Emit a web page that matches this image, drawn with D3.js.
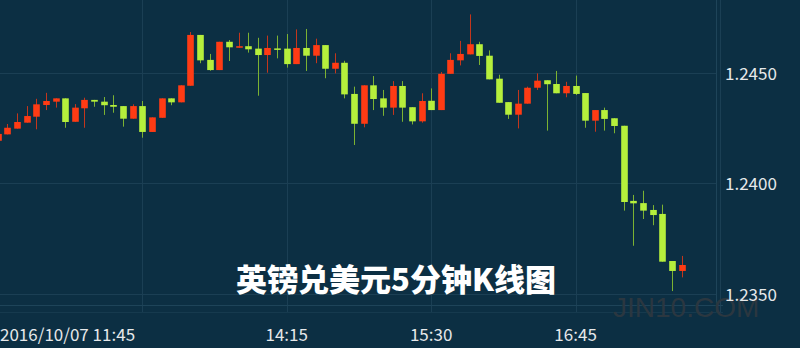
<!DOCTYPE html>
<html>
<head>
<meta charset="utf-8">
<script src="https://cdn.jsdelivr.net/npm/d3@7"></script>
<style>
  html, body { margin: 0; padding: 0; background: #0c2f43; }
  svg { display: block; }
</style>
</head>
<body>
<div id="chart"></div>
<script>
// ===== GBP/USD 5 min candles, 2016/10/07 =====
var times = ["11:45","11:50","11:55","12:00","12:05","12:10","12:15","12:20","12:25","12:30",
    "12:35","12:40","12:45","12:50","12:55","13:00","13:05","13:10","13:15","13:20",
    "13:25","13:30","13:35","13:40","13:45","13:50","13:55","14:00","14:05","14:10",
    "14:15","14:20","14:25","14:30","14:35","14:40","14:45","14:50","14:55","15:00",
    "15:05","15:10","15:15","15:20","15:25","15:30","15:35","15:40","15:45","15:50",
    "15:55","16:00","16:05","16:10","16:15","16:20","16:25","16:30","16:35","16:40",
    "16:45","16:50","16:55","17:00","17:05","17:10","17:15","17:20","17:25","17:30",
    "17:35","17:40"];

var open = [1.24191,1.24220,1.24246,1.24273,1.24300,1.24353,1.24368,1.24383,1.24277,1.24338,
    1.24376,1.24368,1.24353,1.24348,1.24291,1.24348,1.24231,1.24295,1.24383,1.24365,
    1.24440,1.24670,1.24557,1.24511,1.24639,1.24612,1.24619,1.24608,1.24579,1.24609,
    1.24608,1.24538,1.24611,1.24576,1.24624,1.24517,1.24544,1.24403,1.24268,1.24442,
    1.24383,1.24341,1.24439,1.24343,1.24279,1.24372,1.24330,1.24494,1.24555,1.24582,
    1.24628,1.24576,1.24472,1.24366,1.24309,1.24359,1.24431,1.24465,1.24448,1.24406,
    1.24439,1.24407,1.24282,1.24330,1.24293,1.24259,1.23919,1.23909,1.23878,1.23860,
    1.23647,1.23602];

var high = [1.24231,1.24267,1.24315,1.24348,1.24381,1.24408,1.24383,1.24383,1.24357,1.24386,
    1.24376,1.24389,1.24397,1.24348,1.24356,1.24371,1.24297,1.24383,1.24383,1.24442,
    1.24683,1.24670,1.24584,1.24639,1.24647,1.24680,1.24680,1.24657,1.24667,1.24667,
    1.24674,1.24695,1.24697,1.24653,1.24624,1.24587,1.24553,1.24436,1.24442,1.24484,
    1.24421,1.24461,1.24461,1.24343,1.24406,1.24428,1.24502,1.24587,1.24643,1.24763,
    1.24639,1.24600,1.24490,1.24366,1.24421,1.24436,1.24496,1.24465,1.24507,1.24458,
    1.24486,1.24407,1.24330,1.24341,1.24293,1.24259,1.23946,1.23965,1.23900,1.23902,
    1.23647,1.23670];

var low = [1.24181,1.24220,1.24246,1.24273,1.24243,1.24330,1.24341,1.24250,1.24277,1.24250,
    1.24345,1.24308,1.24318,1.24255,1.24291,1.24205,1.24231,1.24295,1.24352,1.24365,
    1.24440,1.24542,1.24508,1.24511,1.24552,1.24612,1.24590,1.24395,1.24499,1.24564,
    1.24522,1.24538,1.24507,1.24542,1.24474,1.24496,1.24383,1.24172,1.24252,1.24330,
    1.24304,1.24308,1.24277,1.24265,1.24273,1.24330,1.24330,1.24494,1.24532,1.24582,
    1.24534,1.24469,1.24363,1.24290,1.24247,1.24359,1.24421,1.24237,1.24406,1.24388,
    1.24398,1.24250,1.24232,1.24237,1.24225,1.23875,1.23716,1.23837,1.23809,1.23644,
    1.23511,1.23573];

var close = [1.24222,1.24250,1.24276,1.24303,1.24356,1.24371,1.24383,1.24276,1.24341,1.24376,
    1.24368,1.24352,1.24345,1.24291,1.24348,1.24231,1.24297,1.24383,1.24365,1.24442,
    1.24670,1.24555,1.24511,1.24639,1.24614,1.24619,1.24605,1.24579,1.24611,1.24603,
    1.24538,1.24611,1.24576,1.24624,1.24517,1.24544,1.24401,1.24268,1.24442,1.24380,
    1.24341,1.24439,1.24341,1.24279,1.24371,1.24330,1.24494,1.24557,1.24584,1.24628,
    1.24575,1.24469,1.24363,1.24309,1.24359,1.24431,1.24463,1.24447,1.24406,1.24439,
    1.24403,1.24282,1.24330,1.24290,1.24258,1.23914,1.23908,1.23875,1.23855,1.23644,
    1.23602,1.23629];

var priceTicks = [1.2350, 1.2400, 1.2450];
var timeTicks = ["11:45","13:00","14:15","15:30","16:45","18:00"];
var timeLabels = ["2016/10/07 11:45","","14:15","15:30","16:45",""];
var title = "英镑兑美元5分钟K线图";
var watermark = "JIN10.COM";

var upColor = "#ff3b14", downColor = "#b6ef3c";
var upWick = "#c4361c", downWick = "#7cb232";
var gridColor = "#1b3f54";
var font = "'Noto Sans CJK SC', 'DejaVu Sans', sans-serif";

var width = 800, height = 348;
var plotRight = 716, plotBottom = 305;

var parseTime = d3.timeParse("%Y-%m-%d %H:%M");
function toDate(t){ return parseTime("2016-10-07 " + t) }

var candles = times.map(function(t, i){
    return {t: toDate(t), o: open[i], h: high[i], l: low[i], c: close[i]}
})

var x = d3.scaleTime()
    .domain([toDate("11:45"), toDate("16:45")])
    .range([-2.2, 575.6])

var y = d3.scaleLinear()
    .domain([1.2350, 1.2450])
    .range([293.5, 72.5])

var svg = d3.select("#chart")
    .append("svg")
    .attr("width", width)
    .attr("height", height)

svg.append("rect")
    .attr("width", width)
    .attr("height", height)
    .attr("fill", "#0c2f43")

// grid
var grid = svg.append("g").attr("shape-rendering", "crispEdges")

grid.selectAll("line.h")
    .data(priceTicks)
    .enter()
    .append("line")
    .attr("class", "h")
    .attr("x1", 0)
    .attr("x2", plotRight)
    .attr("y1", function(d){ return Math.round(y(d)) + 0.5 })
    .attr("y2", function(d){ return Math.round(y(d)) + 0.5 })
    .attr("stroke", gridColor)

grid.selectAll("line.v")
    .data(timeTicks)
    .enter()
    .append("line")
    .attr("class", "v")
    .attr("x1", function(d){ return Math.round(x(toDate(d))) + 0.5 })
    .attr("x2", function(d){ return Math.round(x(toDate(d))) + 0.5 })
    .attr("y1", 0)
    .attr("y2", 312)
    .attr("stroke", gridColor)

// plot frame
grid.append("line")
    .attr("x1", plotRight + 0.5).attr("x2", plotRight + 0.5)
    .attr("y1", 0).attr("y2", 312)
    .attr("stroke", "#1e4459")
grid.append("line")
    .attr("x1", 0).attr("x2", 723)
    .attr("y1", plotBottom + 0.5).attr("y2", plotBottom + 0.5)
    .attr("stroke", "#1e4459")
grid.append("line")
    .attr("x1", 0).attr("x2", 723)
    .attr("y1", 312.5).attr("y2", 312.5)
    .attr("stroke", "#163a4e")

// watermark
svg.append("text")
    .text(watermark)
    .attr("x", 613)
    .attr("y", 317)
    .attr("font-family", "'Liberation Sans', Arial, sans-serif")
    .attr("font-size", "28px")
    .attr("fill", "#2b3740")

// candles
var bodyW = 6.6

var g = svg.append("g")

g.selectAll("line.wick")
    .data(candles)
    .enter()
    .append("line")
    .attr("class", "wick")
    .attr("x1", function(d){ return Math.round(x(d.t)) + 0.5 })
    .attr("x2", function(d){ return Math.round(x(d.t)) + 0.5 })
    .attr("y1", function(d){ return y(d.h) })
    .attr("y2", function(d){ return y(d.l) })
    .attr("stroke", function(d){ return d.c >= d.o ? upWick : downWick })
    .attr("stroke-width", 1)

g.selectAll("rect.body")
    .data(candles)
    .enter()
    .append("rect")
    .attr("class", "body")
    .attr("x", function(d){ return Math.round(x(d.t)) + 0.5 - bodyW / 2 })
    .attr("y", function(d){ return y(Math.max(d.o, d.c)) })
    .attr("width", bodyW)
    .attr("height", function(d){ return Math.max(1.5, Math.abs(y(d.o) - y(d.c))) })
    .attr("fill", function(d){ return d.c >= d.o ? upColor : downColor })

// price labels
svg.selectAll("text.price")
    .data(priceTicks)
    .enter()
    .append("text")
    .attr("class", "price")
    .text(function(d){ return d3.format(".4f")(d) })
    .attr("x", 725)
    .attr("y", function(d){ return y(d) + 7 })
    .attr("font-family", font)
    .attr("font-size", "17px")
    .attr("fill", "#e6e8ea")

// time labels
svg.selectAll("text.time")
    .data(timeTicks)
    .enter()
    .append("text")
    .attr("class", "time")
    .text(function(d, i){ return timeLabels[i] })
    .attr("x", function(d, i){ return i == 0 ? 0 : x(toDate(d)) })
    .attr("y", 341)
    .attr("text-anchor", function(d, i){ return i == 0 ? "start" : "middle" })
    .attr("font-family", font)
    .attr("font-size", "17px")
    .attr("fill", "#e6e8ea")

// title
svg.append("text")
    .text(title)
    .attr("x", 396)
    .attr("y", 291)
    .attr("text-anchor", "middle")
    .attr("font-family", font)
    .attr("font-size", "31px")
    .attr("font-weight", "900")
    .attr("fill", "white")
</script>
</body>
</html>
